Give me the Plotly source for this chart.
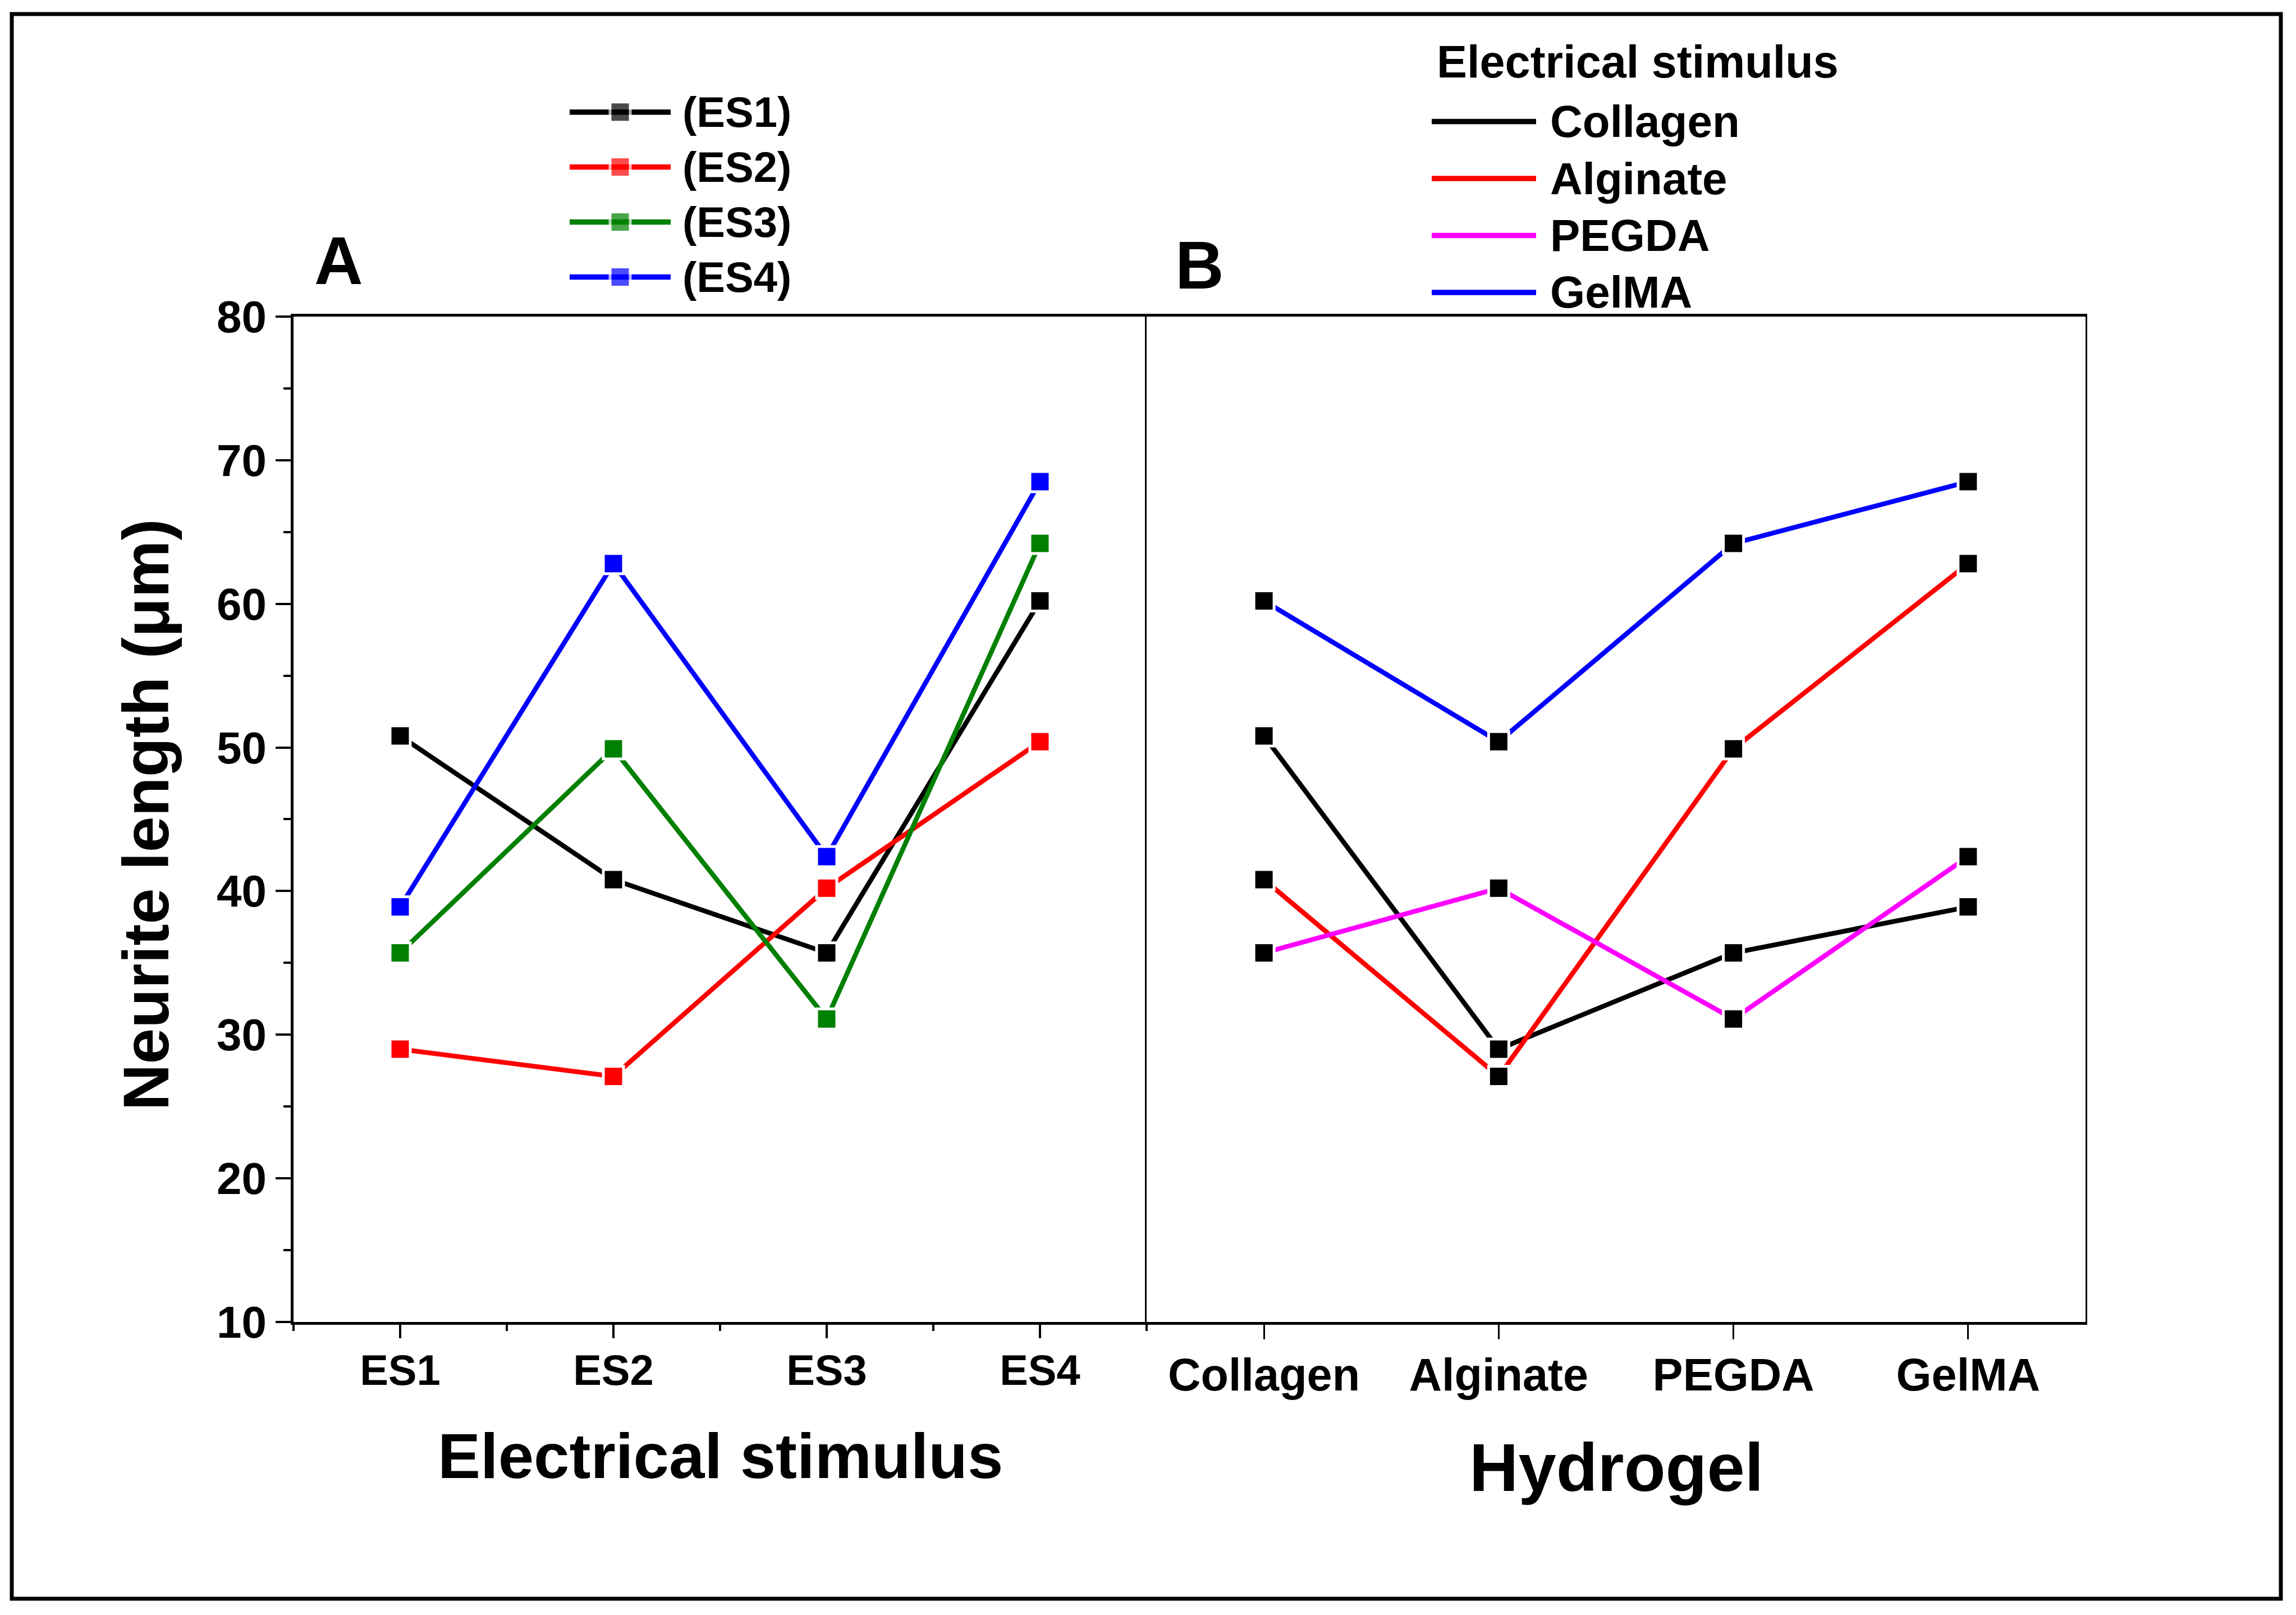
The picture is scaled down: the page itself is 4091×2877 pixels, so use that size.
import plotly.graph_objects as go

# ---------------- data ----------------
ES_CATEGORIES = ["ES1", "ES2", "ES3", "ES4"]
HYDROGEL_CATEGORIES = ["Collagen", "Alginate", "PEGDA", "GelMA"]

# Panel A: x = electrical stimulus
A_NAMES = ["(ES1)", "(ES2)", "(ES3)", "(ES4)"]
A_ES1 = [50.8, 40.8, 35.7, 60.2]
A_ES2 = [29.0, 27.1, 40.2, 50.4]
A_ES3 = [35.7, 49.9, 31.1, 64.2]
A_ES4 = [38.9, 62.8, 42.4, 68.5]

# Panel B: x = hydrogel
B_NAMES = ["Collagen", "Alginate", "PEGDA", "GelMA"]
B_COLLAGEN = [50.8, 29.0, 35.7, 38.9]
B_ALGINATE = [40.8, 27.1, 49.9, 62.8]
B_PEGDA = [35.7, 40.2, 31.1, 42.4]
B_GELMA = [60.2, 50.4, 64.2, 68.5]

Y_TICKS = [10, 20, 30, 40, 50, 60, 70, 80]
Y_RANGE = [10, 80]

# ---------------- style ----------------
W, H = 4091, 2877
# observed placement of the paper inside the screenshot
X_OFF, X_SPAN = 8, 4091
Y_OFF, Y_SPAN = 49, 2795
FONT = "Liberation Sans, Arial, sans-serif"
A_COLORS = ["#000000", "#FF0000", "#008000", "#0000FF"]
B_COLORS = ["#000000", "#FF0000", "#FF00FF", "#0000FF"]
LINE_W = 8.5
KEY_LINE_W = 9.5
MARK_SIZE = 36
MARK_GAP = 5


def fnt(size):
    return dict(family=FONT, size=size, color="black", weight="bold")


def px_x(p):
    return (p - X_OFF) / X_SPAN


def px_y(p):
    return 1 - (p - Y_OFF) / Y_SPAN


# plot frame in (reference) pixels
PLOT_L, PLOT_MID, PLOT_R = 523, 2043, 3716
PLOT_T, PLOT_B = 562, 2358

idx_es = list(range(len(ES_CATEGORIES)))
idx_hg = list(range(len(HYDROGEL_CATEGORIES)))
x_range = [-0.5, len(ES_CATEGORIES) - 0.5]
boundaries = [i - 0.5 for i in range(len(ES_CATEGORIES) + 1)]

fig = go.Figure()

# Panel A traces
for name, ys, col in zip(A_NAMES, [A_ES1, A_ES2, A_ES3, A_ES4], A_COLORS):
    fig.add_trace(go.Scatter(
        x=idx_es, y=ys, name=name, mode="lines+markers",
        line=dict(color=col, width=LINE_W),
        marker=dict(symbol="square", size=MARK_SIZE, color=col,
                    line=dict(color="white", width=MARK_GAP)),
        xaxis="x", yaxis="y", showlegend=False))

# Panel B traces
for name, ys, col in zip(B_NAMES, [B_COLLAGEN, B_ALGINATE, B_PEGDA, B_GELMA], B_COLORS):
    fig.add_trace(go.Scatter(
        x=idx_hg, y=ys, name=name, mode="lines+markers",
        line=dict(color=col, width=LINE_W),
        marker=dict(symbol="square", size=MARK_SIZE, color="black",
                    line=dict(color="white", width=MARK_GAP)),
        xaxis="x2", yaxis="y2", showlegend=False))

# ---------------- custom legend keys (hidden axes) ----------------
# legend A: rows at 197 + 98.2*k px, key line from 1015 to 1195 px
LA_ROW0, LA_STEP, LA_X0, LA_LEN = 197, 98.2, 1015, 180
LA_RANGE_X = [0, 2.5]
LA_RANGE_Y = [len(A_NAMES) - 0.5, -0.5]
la_dom_x = [px_x(LA_X0), px_x(LA_X0 + LA_LEN * LA_RANGE_X[1])]
la_dom_y = [px_y(LA_ROW0 + LA_STEP * LA_RANGE_Y[0]), px_y(LA_ROW0 + LA_STEP * LA_RANGE_Y[1])]

for k, (name, col) in enumerate(zip(A_NAMES, A_COLORS)):
    fig.add_trace(go.Scatter(
        x=[0, 0.5, 1], y=[k, k, k], mode="lines+markers",
        line=dict(color=col, width=KEY_LINE_W),
        marker=dict(symbol="square", size=[0, MARK_SIZE, 0], color=col,
                    line=dict(color="white", width=[0, MARK_GAP, 0])),
        xaxis="x3", yaxis="y3", showlegend=False, hoverinfo="skip"))

# legend B: rows at 214 + 101.7*k px, key line from 2551 to 2737 px
LB_ROW0, LB_STEP, LB_X0, LB_LEN = 214, 101.7, 2551, 186
LB_RANGE_X = [0, 4]
LB_RANGE_Y = [len(B_NAMES) - 0.5, -1.5]
lb_dom_x = [px_x(LB_X0), px_x(LB_X0 + LB_LEN * LB_RANGE_X[1])]
lb_dom_y = [px_y(LB_ROW0 + LB_STEP * LB_RANGE_Y[0]), px_y(LB_ROW0 + LB_STEP * LB_RANGE_Y[1])]

for k, (name, col) in enumerate(zip(B_NAMES, B_COLORS)):
    fig.add_trace(go.Scatter(
        x=[0, 1], y=[k, k], mode="lines",
        line=dict(color=col, width=KEY_LINE_W),
        xaxis="x4", yaxis="y4", showlegend=False, hoverinfo="skip"))

annotations = []
for k, name in enumerate(A_NAMES):
    annotations.append(dict(text=name, x=1.106, y=k, xref="x3", yref="y3",
                            xanchor="left", yanchor="middle", showarrow=False,
                            font=fnt(76)))
annotations.append(dict(text="Electrical stimulus", x=0.04, y=-1.05, xref="x4", yref="y4",
                        xanchor="left", yanchor="middle", showarrow=False, font=fnt(81)))
for k, name in enumerate(B_NAMES):
    annotations.append(dict(text=name, x=1.124, y=k, xref="x4", yref="y4",
                            xanchor="left", yanchor="middle", showarrow=False,
                            font=fnt(80)))

# panel labels and axis titles
annotations += [
    dict(text="A", x=px_x(558), y=px_y(462), xref="paper", yref="paper",
         xanchor="left", yanchor="middle", showarrow=False, font=fnt(120)),
    dict(text="B", x=px_x(2092), y=px_y(470), xref="paper", yref="paper",
         xanchor="left", yanchor="middle", showarrow=False, font=fnt(120)),
    dict(text="Electrical stimulus", x=px_x(1283), y=px_y(2597), xref="paper", yref="paper",
         xanchor="center", yanchor="middle", showarrow=False, font=fnt(114)),
    dict(text="Hydrogel", x=px_x(2880), y=px_y(2617), xref="paper", yref="paper",
         xanchor="center", yanchor="middle", showarrow=False, font=fnt(121)),
    dict(text="Neurite length (μm)", x=px_x(260), y=px_y(1452), xref="paper", yref="paper",
         xanchor="center", yanchor="middle", textangle=-90, showarrow=False, font=fnt(115)),
]

hidden = dict(visible=False, fixedrange=True, showgrid=False, zeroline=False)

fig.update_layout(
    width=W, height=H,
    margin=dict(l=0, r=0, t=0, b=0, pad=0),
    paper_bgcolor="white", plot_bgcolor="rgba(0,0,0,0)",
    showlegend=False,
    xaxis=dict(domain=[px_x(PLOT_L), px_x(PLOT_MID)], anchor="y", range=x_range,
               tickmode="array", tickvals=idx_es, ticktext=ES_CATEGORIES,
               ticks="outside", ticklen=24, tickwidth=4, tickcolor="black",
               showline=True, linewidth=5, linecolor="black", mirror=True,
               showgrid=False, zeroline=False, tickfont=fnt(76),
               ticklabelstandoff=-8,
               minor=dict(tickmode="array", tickvals=boundaries, ticks="outside",
                          ticklen=11, tickwidth=4, tickcolor="black", showgrid=False)),
    yaxis=dict(domain=[px_y(PLOT_B), px_y(PLOT_T)], anchor="x", range=Y_RANGE,
               tickmode="array", tickvals=Y_TICKS,
               ticks="outside", ticklen=27, tickwidth=4, tickcolor="black",
               showline=True, linewidth=5, linecolor="black", mirror=False,
               showgrid=False, zeroline=False, tickfont=fnt(80),
               minor=dict(tick0=10, dtick=5, ticks="outside", ticklen=13,
                          tickwidth=4, tickcolor="black", showgrid=False)),
    xaxis2=dict(domain=[px_x(PLOT_MID), px_x(PLOT_R)], anchor="y2", range=x_range,
                tickmode="array", tickvals=idx_hg, ticktext=HYDROGEL_CATEGORIES,
                ticks="outside", ticklen=26, tickwidth=3, tickcolor="black",
                showline=True, linewidth=5, linecolor="black", mirror=True,
                showgrid=False, zeroline=False, tickfont=fnt(81),
                ticklabelstandoff=-6),
    yaxis2=dict(domain=[px_y(PLOT_B), px_y(PLOT_T)], anchor="x2", range=Y_RANGE,
                showticklabels=False, ticks="",
                showline=True, linewidth=3, linecolor="black", mirror=True,
                showgrid=False, zeroline=False),
    xaxis3=dict(domain=la_dom_x, anchor="y3", range=LA_RANGE_X, **hidden),
    yaxis3=dict(domain=la_dom_y, anchor="x3", range=LA_RANGE_Y, **hidden),
    xaxis4=dict(domain=lb_dom_x, anchor="y4", range=LB_RANGE_X, **hidden),
    yaxis4=dict(domain=lb_dom_y, anchor="x4", range=LB_RANGE_Y, **hidden),
    annotations=annotations,
    shapes=[dict(type="rect", xref="paper", yref="paper",
                 x0=px_x(21), x1=px_x(4064), y0=px_y(2852), y1=px_y(22),
                 line=dict(color="black", width=7), fillcolor="rgba(0,0,0,0)",
                 layer="below")],
)

fig.write_html("out.html")
